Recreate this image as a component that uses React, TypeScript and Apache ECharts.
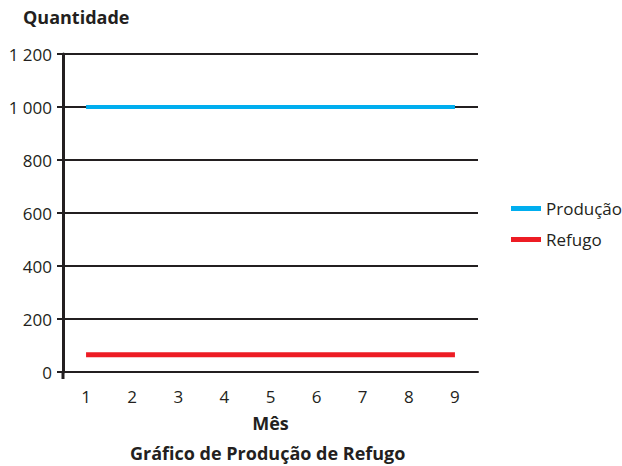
import React, { useEffect, useRef } from "react";
import * as echarts from "echarts";

const months = ["1", "2", "3", "4", "5", "6", "7", "8", "9"];
const producao = [1000, 1000, 1000, 1000, 1000, 1000, 1000, 1000, 1000];
const refugo = [65, 65, 65, 65, 65, 65, 65, 65, 65];
const seriesNames = ["Produção", "Refugo"];
const yTicks = { min: 0, max: 1200, interval: 200 };

const FONT = "'Open Sans', 'Noto Sans', sans-serif";
const INK = "#231f20";

export default function App() {
  const ref = useRef<HTMLDivElement>(null);
  useEffect(() => {
    if (!ref.current) return;
    const chart = echarts.init(ref.current, undefined, { renderer: "svg" });
    const gridLeft = 63;
    const gridBottomY = 372;
    chart.setOption({
      animation: false,
      backgroundColor: "#ffffff",
      textStyle: { fontFamily: FONT, color: INK },
      title: [
        {
          text: "Quantidade",
          left: 18,
          top: 3,
          textStyle: { fontFamily: FONT, fontSize: 18, fontWeight: "bold", color: INK },
        },
        {
          text: "Gráfico de Produção de Refugo",
          left: 125,
          top: 439,
          textStyle: { fontFamily: FONT, fontSize: 18, fontWeight: "bold", color: INK },
        },
      ],
      legend: {
        orient: "vertical",
        left: 506,
        top: 195,
        itemWidth: 30,
        itemHeight: 5,
        itemGap: 14,
        icon: "rect",
        data: seriesNames,
        textStyle: { fontFamily: FONT, fontSize: 17, color: INK },
      },
      graphic: [
        {
          type: "line",
          shape: { x1: gridLeft, y1: gridBottomY, x2: gridLeft, y2: gridBottomY + 7 },
          style: { stroke: INK, lineWidth: 3 },
        },
      ],
      grid: { left: gridLeft, right: 144, top: 54, bottom: 466 - gridBottomY, containLabel: false },
      xAxis: {
        type: "category",
        data: months,
        boundaryGap: true,
        name: "Mês",
        nameLocation: "middle",
        nameGap: 42,
        nameTextStyle: { fontFamily: FONT, fontSize: 18, fontWeight: "bold", color: INK },
        axisLine: { show: true, lineStyle: { color: INK, width: 2 } },
        axisTick: { show: false },
        axisLabel: { fontFamily: FONT, fontSize: 17, color: INK, margin: 16 },
      },
      yAxis: {
        type: "value",
        min: yTicks.min,
        max: yTicks.max,
        interval: yTicks.interval,
        axisLine: { show: true, lineStyle: { color: INK, width: 3 } },
        axisTick: { show: true, inside: false, length: 6, lineStyle: { color: INK, width: 2 } },
        axisLabel: {
          fontFamily: FONT,
          fontSize: 17,
          color: INK,
          margin: 11,
          formatter: (v: number) => String(v).replace(/\B(?=(\d{3})+(?!\d))/g, " "),
        },
        splitLine: { show: true, lineStyle: { color: INK, width: 2 } },
      },
      series: [
        {
          name: seriesNames[0],
          type: "line",
          data: producao,
          showSymbol: false,
          color: "#00aeef",
          lineStyle: { width: 4, color: "#00aeef", cap: "butt" },
        },
        {
          name: seriesNames[1],
          type: "line",
          data: refugo,
          showSymbol: false,
          color: "#ed1c24",
          lineStyle: { width: 5, color: "#ed1c24", cap: "butt" },
        },
      ],
    });
    return () => chart.dispose();
  }, []);
  return (
    <div
      ref={ref}
      style={{ position: "fixed", left: 0, top: 0, width: 622, height: 466 }}
    />
  );
}
